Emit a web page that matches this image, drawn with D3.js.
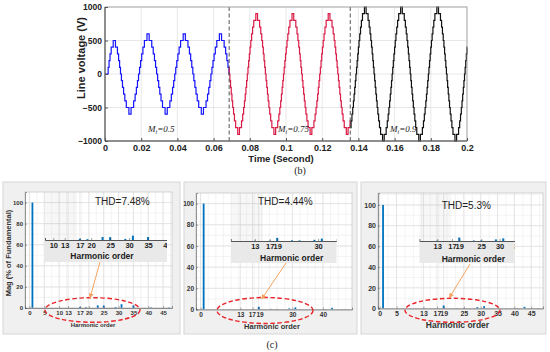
<!DOCTYPE html>
<html>
<head>
<meta charset="utf-8">
<script src="https://cdn.jsdelivr.net/npm/d3@7"></script>
<style>
  body { margin: 0; background: #fff; }
  svg { display: block; font-family: "Liberation Sans", Arial, sans-serif; }
</style>
</head>
<body>
<div id="chart"></div>
<script>
// ---------- (b) line voltage ----------
const timeTicks = [0, 0.02, 0.04, 0.06, 0.08, 0.1, 0.12, 0.14, 0.16, 0.18, 0.2];
const voltTicks = [-1000, -500, 0, 500, 1000];

// zero crossings of the staircase (s)
const zeroCross = [0.0015, 0.0088, 0.0188, 0.0288, 0.0388, 0.0488, 0.0588, 0.0688,
  0.0788, 0.0888, 0.0988, 0.1088, 0.1188, 0.1288, 0.1388, 0.1488, 0.1588,
  0.1688, 0.1788, 0.1888, 0.1988, 0.2088];

const modIndex = ["0.5", "0.75", "0.9"];
const segStart = [0, 0.0686, 0.1355];
const segEnd = [0.0686, 0.1355, 0.2];
// switching instants (ms after each zero crossing) for the 100 V levels
const switchMs = [
  [0.28, 0.86, 1.47, 2.15, 2.97, 4.40],
  [0.19, 0.56, 0.94, 1.33, 1.75, 2.21, 2.73, 3.38, 4.52],
  [0.17, 0.50, 0.84, 1.19, 1.55, 1.94, 2.37, 2.85, 3.46, 4.54]
];
const startupMs = [0.24, 0.74, 1.28, 1.92, 3.03];   // first, shorter half cycle
const levelStep = 100;

// ---------- (c) harmonic spectra ----------
const harmonics = [1, 13, 17, 19, 23, 25, 29, 31, 35, 41, 43, 47];
const magM05 = [100, 0, 1.0, 0.7, 2.5, 2.4, 0.9, 3.6, 2.5, 0.5, 0, 0.4];
const magM075 = [100, 0.2, 0.3, 2.6, 0.6, 0.5, 1.0, 2.0, 0, 0.4, 1.6, 0.4];
const magM09 = [100, 0.3, 0, 2.9, 0.4, 0.5, 1.3, 2.2, 0, 0.4, 1.6, 0.4];
const thdText = ["THD=7.48%", "THD=4.44%", "THD=5.3%"];
const magTicks = [0, 20, 40, 60, 80, 100];
const harmTicks = [
  [0, 5, 10, 13, 17, 20, 25, 30, 35, 40, 45],
  [0, 13, 17, 19, 30, 40],
  [0, 5, 13, 17, 19, 25, 30, 35, 40, 45]
];
const insetTicks = [
  [10, 13, 17, 20, 25, 30, 35, 40],
  [13, 17, 19, 30],
  [13, 17, 19, 25, 30, 35]
];

const W = 550, H = 352;
const svg = d3.select("#chart").append("svg")
  .attr("width", W).attr("height", H);

svg.append("defs").append("marker")
  .attr("id", "arr")
  .attr("viewBox", "0 0 10 10")
  .attr("refX", 9).attr("refY", 5)
  .attr("markerWidth", 5).attr("markerHeight", 5)
  .attr("orient", "auto")
  .append("path").attr("d", "M0,0L10,5L0,10z").attr("fill", "#f4a460");

// ===== top plot =====
const box = {x0: 105, x1: 467, y0: 7, y1: 141};
const x = d3.scaleLinear().domain([0, 0.2]).range([box.x0, box.x1]);
const y = d3.scaleLinear().domain([-1000, 1000]).range([box.y1, box.y0]);

let gt = svg.append("g");
gt.append("rect")
  .attr("x", box.x0).attr("y", box.y0)
  .attr("width", box.x1 - box.x0).attr("height", box.y1 - box.y0)
  .attr("fill", "#fff");

gt.selectAll(".vg").data(timeTicks).enter().append("line")
  .attr("x1", d => x(d)).attr("x2", d => x(d))
  .attr("y1", box.y0).attr("y2", box.y1)
  .attr("stroke", "#e2e2e2").attr("stroke-width", 0.8);
gt.selectAll(".hg").data(voltTicks).enter().append("line")
  .attr("x1", box.x0).attr("x2", box.x1)
  .attr("y1", d => y(d)).attr("y2", d => y(d))
  .attr("stroke", "#e2e2e2").attr("stroke-width", 0.8);

function halfCycle(s, e, sign, ang) {
  let pts = [[s, 0]];
  ang.forEach((a, i) => pts.push([s + a / 1000, sign * levelStep * (i + 1)]));
  for (let i = ang.length - 1; i >= 0; i--) pts.push([e - ang[i] / 1000, sign * levelStep * i]);
  return pts;
}

const segColor = ["#1414ff", "#d91a45", "#111111"];
const line = d3.line().x(d => x(d[0])).y(d => y(d[1])).curve(d3.curveStepAfter);

segStart.forEach((s0, k) => {
  let pts = [[0, 0]];
  for (let i = 0; i < zeroCross.length - 1; i++) {
    let s = zeroCross[i], e = zeroCross[i + 1];
    if (e <= s0 - 0.01 || s >= segEnd[k]) continue;
    let ang = i === 0 ? startupMs : switchMs[k];
    pts = pts.concat(halfCycle(s, e, i % 2 === 0 ? 1 : -1, ang));
  }
  let before = pts.filter(p => p[0] <= s0);
  let v0 = before.length ? before[before.length - 1][1] : 0;
  let inside = pts.filter(p => p[0] > s0 && p[0] < segEnd[k]);
  let vEnd = inside.length ? inside[inside.length - 1][1] : v0;
  let data = [[s0, v0]].concat(inside, [[segEnd[k], vEnd]]);
  gt.append("path")
    .datum(data)
    .attr("d", line)
    .attr("fill", "none")
    .attr("stroke", segColor[k])
    .attr("stroke-width", 1.2);
});

[segStart[1], segStart[2]].forEach(t => {
  gt.append("line")
    .attr("x1", x(t)).attr("x2", x(t))
    .attr("y1", box.y0).attr("y2", box.y1)
    .attr("stroke", "#555").attr("stroke-width", 1)
    .attr("stroke-dasharray", "4,2.5");
});

// frame
gt.append("rect")
  .attr("x", box.x0).attr("y", box.y0)
  .attr("width", box.x1 - box.x0).attr("height", box.y1 - box.y0)
  .attr("fill", "none").attr("stroke", "#9a9a9a").attr("stroke-width", 0.8);
gt.append("path")
  .attr("d", `M${box.x0},${box.y0}V${box.y1}H${box.x1}`)
  .attr("fill", "none").attr("stroke", "#404040").attr("stroke-width", 0.9);

let xAxisCall = d3.axisBottom(x).tickValues(timeTicks)
  .tickFormat(d => String(+d.toFixed(2))).tickSize(-3).tickPadding(4);
gt.append("g")
  .attr("transform", "translate(0," + box.y1 + ")")
  .call(xAxisCall)
  .call(g => g.select(".domain").remove())
  .selectAll("text").attr("font-size", "9px").attr("font-weight", "bold").attr("fill", "#222");

let yAxisCall = d3.axisLeft(y).tickValues(voltTicks).tickFormat(d3.format("d"))
  .tickSize(-3).tickPadding(3);
gt.append("g")
  .attr("transform", "translate(" + box.x0 + ",0)")
  .call(yAxisCall)
  .call(g => g.select(".domain").remove())
  .selectAll("text").attr("font-size", "8.5px").attr("font-weight", "bold").attr("fill", "#222");
gt.selectAll(".tick line").attr("stroke", "#555");

gt.append("text")
  .attr("transform", "translate(85,58) rotate(-90)")
  .attr("text-anchor", "middle")
  .attr("font-size", "11px").attr("font-weight", "bold").attr("fill", "#222")
  .text("Line voltage (V)");

gt.append("text")
  .attr("x", 281).attr("y", 162)
  .attr("text-anchor", "middle")
  .attr("font-size", "9.5px").attr("font-weight", "bold").attr("fill", "#222")
  .text("Time (Second)");

const miX = [148, 278, 390];
modIndex.forEach((m, k) => {
  let t = gt.append("text")
    .attr("x", miX[k]).attr("y", 132)
    .attr("font-family", "'Liberation Serif', 'Times New Roman', serif")
    .attr("font-style", "italic").attr("font-size", "9px").attr("fill", "#222");
  t.append("tspan").text("M");
  t.append("tspan").attr("font-size", "6px").attr("dy", 2).text("i");
  t.append("tspan").attr("dy", -2).text("=" + m);
});

svg.append("text")
  .attr("x", 300).attr("y", 174)
  .attr("text-anchor", "middle")
  .attr("font-family", "'Liberation Serif', 'Times New Roman', serif")
  .attr("font-size", "10px").attr("fill", "#222")
  .text("(b)");

// ===== bottom panels =====
const panels = [
  {bg: [3, 182, 177, 152], x0: 25, x1: 172, y0: 192, y1: 308, xDom: [-1.5, 48], yDom: [0, 110],
   tickFont: 6, labFont: 6, labX: 93, labY: 327, thdX: 95, thdY: 205,
   ins: {x0: 45, x1: 167, y: 240, dom: [7.8, 40], lx: 102, ly: 258.5, font: 7.5},
   ell: [92.5, 310, 47.5, 12.3], arrow: [100, 262, 90, 298]},
  {bg: [184, 182, 173, 152], x0: 196, x1: 352, y0: 193, y1: 309.5, xDom: [-1.5, 49.5], yDom: [0, 110],
   tickFont: 6.5, labFont: 7.5, labX: 272, labY: 328.5, thdX: 258, thdY: 205,
   ins: {x0: 230.7, x1: 336.7, y: 241, dom: [6.5, 35], lx: 291.7, ly: 260.5, font: 7.5},
   ell: [265, 310.5, 48, 13], arrow: [286, 263, 261.7, 299]},
  {bg: [361, 182, 185, 152], x0: 378, x1: 543, y0: 193, y1: 308.5, xDom: [-0.5, 48.5], yDom: [0, 111.5],
   tickFont: 7, labFont: 8.5, labX: 457.5, labY: 328, thdX: 441.7, thdY: 209,
   ins: {x0: 419.3, x1: 515, y: 241, dom: [8.1, 34.2], lx: 473.3, ly: 261.5, font: 7.5},
   ell: [452.5, 310.3, 47.5, 12], arrow: [470, 264, 449.3, 297.7]}
];
const mags = [magM05, magM075, magM09];

panels.forEach((p, k) => {
  let g = svg.append("g");
  g.append("rect")
    .attr("x", p.bg[0]).attr("y", p.bg[1]).attr("width", p.bg[2]).attr("height", p.bg[3])
    .attr("fill", "#f0f0f0").attr("stroke", "#d6d6d6").attr("stroke-width", 1);
  g.append("rect")
    .attr("x", p.x0).attr("y", p.y0).attr("width", p.x1 - p.x0).attr("height", p.y1 - p.y0)
    .attr("fill", "#fff");

  let xs = d3.scaleLinear().domain(p.xDom).range([p.x0, p.x1]);
  let ys = d3.scaleLinear().domain(p.yDom).range([p.y1, p.y0]);

  // minor + major grid
  let minorX = d3.range(Math.ceil(p.xDom[0] / 2.5) * 2.5, p.xDom[1], 2.5);
  let minorY = d3.range(10, p.yDom[1], 10);
  g.selectAll(".mx").data(minorX).enter().append("line")
    .attr("x1", d => xs(d)).attr("x2", d => xs(d)).attr("y1", p.y0).attr("y2", p.y1)
    .attr("stroke", "#ececec").attr("stroke-width", 0.6);
  g.selectAll(".my").data(minorY).enter().append("line")
    .attr("x1", p.x0).attr("x2", p.x1).attr("y1", d => ys(d)).attr("y2", d => ys(d))
    .attr("stroke", "#ececec").attr("stroke-width", 0.6);
  g.selectAll(".gx").data(harmTicks[k]).enter().append("line")
    .attr("x1", d => xs(d)).attr("x2", d => xs(d)).attr("y1", p.y0).attr("y2", p.y1)
    .attr("stroke", "#dedede").attr("stroke-width", 0.7);
  g.selectAll(".gy").data(magTicks).enter().append("line")
    .attr("x1", p.x0).attr("x2", p.x1).attr("y1", d => ys(d)).attr("y2", d => ys(d))
    .attr("stroke", "#dedede").attr("stroke-width", 0.7);

  // faint band of the inset's axes
  g.append("rect")
    .attr("x", p.ins.x0).attr("y", p.y0).attr("width", 32).attr("height", p.ins.y - p.y0)
    .attr("fill", "#000").attr("opacity", 0.03);

  // bars
  let bw = 1.8;
  g.selectAll(".bar").data(harmonics.map((h, i) => ({h: h, v: mags[k][i]})).filter(d => d.v > 0))
    .enter().append("rect")
    .attr("x", d => xs(d.h) - bw / 2).attr("width", bw)
    .attr("y", d => ys(d.v)).attr("height", d => ys(0) - ys(d.v))
    .attr("fill", "#0072BD");

  g.append("rect")
    .attr("x", p.x0).attr("y", p.y0).attr("width", p.x1 - p.x0).attr("height", p.y1 - p.y0)
    .attr("fill", "none").attr("stroke", "#c4c4c4").attr("stroke-width", 0.7);

  let ax = g.append("g").attr("transform", "translate(0," + p.y1 + ")")
    .call(d3.axisBottom(xs).tickValues(harmTicks[k]).tickSize(-2).tickPadding(3));
  ax.select(".domain").attr("stroke", "#555").attr("stroke-width", 0.6);
  ax.selectAll("text").attr("font-size", p.tickFont + "px").attr("font-weight", "bold").attr("fill", "#333")
    .attr("dx", d => (k === 1 && d === 17) ? -0.8 : (k === 1 && d === 19) ? 0.8 : 0);
  ax.selectAll(".tick line").attr("stroke", "#555").attr("stroke-width", 0.5);

  let ay = g.append("g").attr("transform", "translate(" + p.x0 + ",0)")
    .call(d3.axisLeft(ys).tickValues(magTicks).tickSize(-2).tickPadding(2));
  ay.select(".domain").attr("stroke", "#555").attr("stroke-width", 0.6);
  ay.selectAll("text").attr("font-size", p.tickFont + "px").attr("font-weight", "bold").attr("fill", "#333");
  ay.selectAll(".tick line").attr("stroke", "#555").attr("stroke-width", 0.5);

  g.append("text")
    .attr("x", p.labX).attr("y", p.labY).attr("text-anchor", "middle")
    .attr("font-size", p.labFont + "px").attr("font-weight", "bold").attr("fill", "#333")
    .text("Harmonic order");

  g.append("text")
    .attr("x", p.thdX).attr("y", p.thdY)
    .attr("font-size", "10px").attr("fill", "#222")
    .text(thdText[k]);

  // inset
  let ins = p.ins;
  let cid = "clip" + k;
  svg.select("defs").append("clipPath").attr("id", cid)
    .append("rect").attr("x", ins.x0).attr("y", ins.y - 25).attr("width", ins.x1 - ins.x0).attr("height", 47);
  let gi = g.append("g").attr("clip-path", "url(#" + cid + ")");
  gi.append("rect")
    .attr("x", ins.x0).attr("y", ins.y).attr("width", ins.x1 - ins.x0).attr("height", 22)
    .attr("fill", "#e9e9e9");
  let xi = d3.scaleLinear().domain(ins.dom).range([ins.x0, ins.x1]);
  let yi = d3.scaleLinear().domain([0, 15]).range([ins.y, ins.y - 18]);
  gi.selectAll(".ibar").data(harmonics.map((h, i) => ({h: h, v: mags[k][i]}))
      .filter(d => d.v > 0 && d.h > ins.dom[0] && d.h < ins.dom[1]))
    .enter().append("rect")
    .attr("x", d => xi(d.h) - 1).attr("width", 2)
    .attr("y", d => yi(d.v)).attr("height", d => yi(0) - yi(d.v))
    .attr("fill", "#0072BD");
  let axi = gi.append("g").attr("transform", "translate(0," + ins.y + ")")
    .call(d3.axisBottom(xi).tickValues(insetTicks[k]).tickSize(-2).tickPadding(3));
  axi.select(".domain").attr("stroke", "#444").attr("stroke-width", 0.9);
  axi.selectAll("text").attr("font-size", ins.font + "px").attr("font-weight", "bold").attr("fill", "#222");
  axi.selectAll(".tick line").attr("stroke", "#444").attr("stroke-width", 0.5);
  gi.append("text")
    .attr("x", ins.lx).attr("y", ins.ly).attr("text-anchor", "middle")
    .attr("font-size", "8.5px").attr("font-weight", "bold").attr("fill", "#222")
    .text("Harmonic order");

  // ellipse + arrow
  g.append("ellipse")
    .attr("cx", p.ell[0]).attr("cy", p.ell[1]).attr("rx", p.ell[2]).attr("ry", p.ell[3])
    .attr("fill", "none").attr("stroke", "#e8262a").attr("stroke-width", 1.4)
    .attr("stroke-dasharray", "4.5,2.5");
  g.append("line")
    .attr("x1", p.arrow[0]).attr("y1", p.arrow[1]).attr("x2", p.arrow[2]).attr("y2", p.arrow[3])
    .attr("stroke", "#f4a460").attr("stroke-width", 1)
    .attr("marker-end", "url(#arr)");
});

svg.append("text")
  .attr("transform", "translate(11,253) rotate(-90)")
  .attr("text-anchor", "middle")
  .attr("font-size", "7.5px").attr("font-weight", "bold").attr("fill", "#333")
  .text("Mag (% of Fundamental)");

svg.append("text")
  .attr("x", 272).attr("y", 348)
  .attr("text-anchor", "middle")
  .attr("font-family", "'Liberation Serif', 'Times New Roman', serif")
  .attr("font-size", "10px").attr("fill", "#222")
  .text("(c)");
</script>
</body>
</html>
